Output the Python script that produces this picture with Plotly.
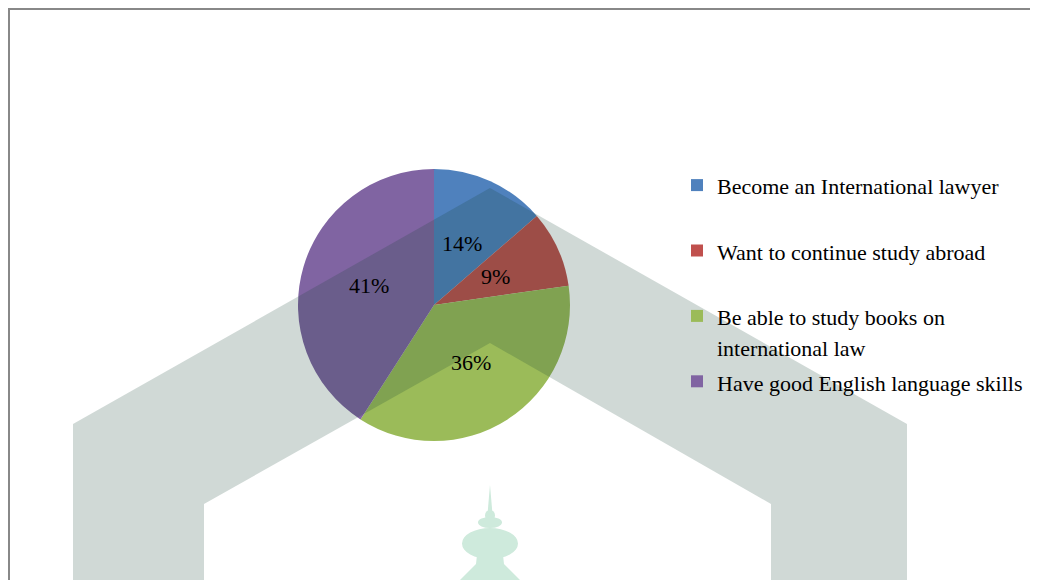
import math
import plotly.graph_objects as go

# ---- data ----
labels = [
    "Become an International lawyer",
    "Want to continue study abroad",
    "Be able to study books on international law",
    "Have good English language skills",
]
legend_lines = [
    ["Become an International lawyer"],
    ["Want to continue study abroad"],
    ["Be able to study books on", "international law"],
    ["Have good English language skills"],
]
counts = [3, 2, 8, 9]
colors = ["#4F81BD", "#C0504D", "#9BBB59", "#8064A2"]

W, H = 1038, 580
OFF = 8  # page body margin
CX, CY, R = 434, 305, 136


def px(x):
    return (x - OFF) / W


def py(y):
    return 1 - (y - OFF) / H


def legend_name(lines, pad):
    parts = ["<span style='font-size:22px'>%s</span>" % l for l in lines]
    if pad:
        parts.append(" ")
    return "<br>".join(parts)


names = [legend_name(l, len(l) == 1 and i < 3) for i, l in enumerate(legend_lines)]

fig = go.Figure(
    go.Pie(
        labels=names,
        values=counts,
        sort=False,
        direction="clockwise",
        rotation=0,
        marker=dict(colors=colors, line=dict(width=0)),
        textinfo="none",
        hovertext=labels,
        hoverinfo="text+percent",
        domain=dict(x=[px(CX - R), px(CX + R)], y=[py(CY + R), py(CY - R)]),
    )
)

# percentage labels placed at half radius on each slice's mid angle
total = sum(counts)
cum = 0
annotations = []
for c in counts:
    mid = (cum + c / 2) / total * 2 * math.pi
    cum += c
    lx = CX + 0.5 * R * math.sin(mid)
    ly = CY - 0.5 * R * math.cos(mid)
    annotations.append(
        dict(
            x=px(lx), y=py(ly), xref="paper", yref="paper",
            text="%d%%" % round(100 * c / total), showarrow=False,
            font=dict(family="Liberation Serif", size=22, color="black"),
            xanchor="center", yanchor="middle",
        )
    )


def path(points):
    return "M " + " L ".join("%.5f,%.5f" % (px(x), py(y)) for x, y in points) + " Z"


shapes = []
# frame
shapes.append(dict(type="path", xref="paper", yref="paper",
                   path="M %.5f,%.5f L %.5f,%.5f L %.5f,%.5f" % (px(9), py(600), px(9), py(9), px(1060), py(9)),
                   line=dict(color="#888888", width=2), layer="below"))
# watermark band
band = [(73, 600), (73, 424), (490, 188), (907, 424), (907, 600), (771, 600),
        (771, 504), (490, 343), (204, 504), (204, 600)]
shapes.append(dict(type="path", xref="paper", yref="paper", path=path(band),
                   fillcolor="rgb(20,65,50)", opacity=0.2, line=dict(width=0), layer="above"))
# dome watermark
dome_col = "#CEEADC"
shapes.append(dict(type="path", xref="paper", yref="paper",
                   path=path([(490, 485), (492.5, 514), (487.5, 514)]),
                   fillcolor=dome_col, line=dict(width=0), layer="below"))
for (x0, y0, x1, y1) in [(485, 510, 495, 521), (478, 517, 502, 528), (462, 528, 518, 559)]:
    shapes.append(dict(type="circle", xref="paper", yref="paper",
                       x0=px(x0), x1=px(x1), y0=py(y1), y1=py(y0),
                       fillcolor=dome_col, line=dict(width=0), layer="below"))
shapes.append(dict(type="path", xref="paper", yref="paper",
                   path=path([(477, 555), (503, 555), (504, 564), (530, 590), (450, 590), (476, 564)]),
                   fillcolor=dome_col, line=dict(width=0), layer="below"))

fig.update_layout(
    width=W, height=H,
    margin=dict(l=0, r=0, t=0, b=0),
    paper_bgcolor="white",
    plot_bgcolor="white",
    showlegend=True,
    legend=dict(
        x=px(677), y=py(163), xanchor="left", yanchor="top",
        font=dict(family="Liberation Serif", size=24, color="black"),
        valign="top", bgcolor="rgba(0,0,0,0)",
    ),
    annotations=annotations,
    shapes=shapes,
)

fig.write_html("out.html")
